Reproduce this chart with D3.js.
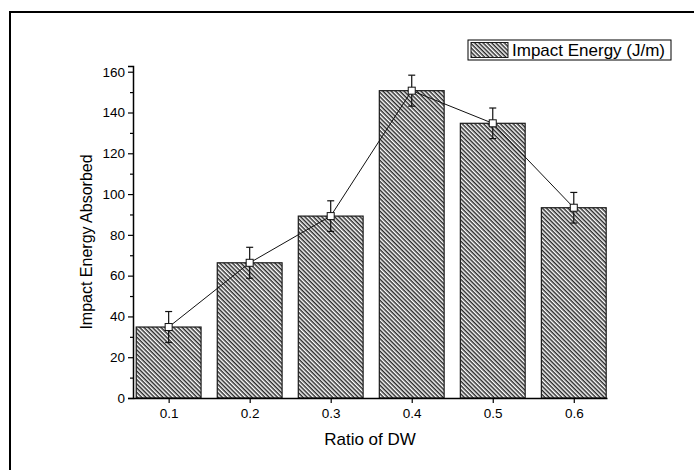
<!DOCTYPE html>
<html><head><meta charset="utf-8">
<script src="https://cdn.jsdelivr.net/npm/d3@7"></script>
<style>body{margin:0;background:#fff}svg{display:block}text{font-family:Arial,"Liberation Sans",sans-serif}</style>
</head><body><svg id="c" width="694" height="470"></svg>
<script>
const categories = [0.1, 0.2, 0.3, 0.4, 0.5, 0.6];
const categoryLabels = ["0.1", "0.2", "0.3", "0.4", "0.5", "0.6"];
const energy = [34.8, 66.3, 89.2, 150.7, 134.7, 93.3];
const errors = [7.6, 7.6, 7.5, 7.6, 7.5, 7.5];
const yTicks = [0, 20, 40, 60, 80, 100, 120, 140, 160];
const yMinorTicks = [10, 30, 50, 70, 90, 110, 130, 150];
const seriesName = "Impact Energy (J/m)";
const xTitle = "Ratio of DW";
const yTitle = "Impact Energy Absorbed";

const FONT = "Arial, 'Liberation Sans', sans-serif";
const svg = d3.select("#c");
const L = 133, R = 607, T = 66, B = 398;
const x = d3.scaleLinear().domain([0.056, 0.641]).range([L, R]);
const y = d3.scaleLinear().domain([0, 162.8]).range([B, T]);
const barW = x(0.18) - x(0.1);

// hatch pattern
const defs = svg.append("defs");
const P = 3;
const pat = defs.append("pattern").attr("id", "hatch").attr("patternUnits", "userSpaceOnUse")
  .attr("width", P).attr("height", P).attr("patternTransform", "rotate(45)");
pat.append("rect").attr("width", P).attr("height", P).attr("fill", "#fff");
pat.append("line").attr("x1", 0).attr("x2", P).attr("y1", 0.75).attr("y2", 0.75)
  .attr("stroke", "#2a2a2a").attr("stroke-width", 1.5);

// outer frame
svg.append("rect").attr("x", 10).attr("y", 12).attr("width", 700).attr("height", 480)
  .attr("fill", "none").attr("stroke", "#000").attr("stroke-width", 2);

// bars
svg.append("g").selectAll("rect").data(categories).join("rect")
  .attr("x", (d) => x(d) - barW / 2).attr("width", barW)
  .attr("y", (d, i) => y(energy[i])).attr("height", (d, i) => y(0) - y(energy[i]))
  .attr("fill", "url(#hatch)").attr("stroke", "#1a1a1a").attr("stroke-width", 1.2);

// axes
const yAxis = d3.axisLeft(y).tickValues(yTicks).tickSize(5).tickPadding(3);
const gy = svg.append("g").attr("transform", `translate(${L},0)`).call(yAxis);
gy.attr("font-family", FONT).attr("font-size", 13.5);
gy.select(".domain").attr("stroke-width", 1.5);
gy.selectAll("text").attr("fill", "#000");
gy.selectAll("line").attr("stroke-width", 1.2);
const yMinor = d3.axisLeft(y).tickValues(yMinorTicks).tickSize(3).tickFormat("");
const gym = svg.append("g").attr("transform", `translate(${L},0)`).call(yMinor);
gym.select(".domain").remove();
gym.selectAll("line").attr("stroke-width", 1.2);

const xAxis = d3.axisBottom(x).tickValues(categories).tickFormat((d, i) => categoryLabels[i]).tickSize(5).tickSizeOuter(0).tickPadding(5);
const gx = svg.append("g").attr("transform", `translate(0,${B})`).call(xAxis);
gx.attr("font-family", FONT).attr("font-size", 13.5);
gx.select(".domain").attr("stroke-width", 1.5);
gx.selectAll("text").attr("fill", "#000");
gx.selectAll("line").attr("stroke-width", 1.2);

// titles
svg.append("text").attr("x", (L + R) / 2).attr("y", 445).attr("text-anchor", "middle")
  .attr("font-size", 17).text(xTitle);
svg.append("text").attr("transform", "translate(92,242) rotate(-90)").attr("text-anchor", "middle")
  .attr("font-size", 16).text(yTitle);

// connecting line
const line = d3.line().x((d) => x(d)).y((d, i) => y(energy[i]));
svg.append("path").datum(categories).attr("d", line).attr("fill", "none").attr("stroke", "#111").attr("stroke-width", 1);

// error bars
const eg = svg.append("g").attr("stroke", "#111").attr("stroke-width", 1.2);
categories.forEach((c, i) => {
  const cx = x(c);
  eg.append("line").attr("x1", cx).attr("x2", cx).attr("y1", y(energy[i] + errors[i])).attr("y2", y(energy[i] - errors[i]));
  eg.append("line").attr("x1", cx - 3.5).attr("x2", cx + 3.5).attr("y1", y(energy[i] + errors[i])).attr("y2", y(energy[i] + errors[i]));
  eg.append("line").attr("x1", cx - 3.5).attr("x2", cx + 3.5).attr("y1", y(energy[i] - errors[i])).attr("y2", y(energy[i] - errors[i]));
});

// markers
svg.append("g").selectAll("rect").data(categories).join("rect")
  .attr("x", (d) => x(d) - 3.5).attr("y", (d, i) => y(energy[i]) - 3.5)
  .attr("width", 7).attr("height", 7).attr("fill", "#fff").attr("stroke", "#111").attr("stroke-width", 1);

// legend
const lg = svg.append("g");
lg.append("rect").attr("x", 468).attr("y", 40).attr("width", 203).attr("height", 20)
  .attr("fill", "#fff").attr("stroke", "#000").attr("stroke-width", 1);
lg.append("rect").attr("x", 471).attr("y", 42.5).attr("width", 37).attr("height", 15)
  .attr("fill", "url(#hatch)").attr("stroke", "#1a1a1a").attr("stroke-width", 1);
lg.append("text").attr("x", 512).attr("y", 56).attr("font-size", 17).text(seriesName);
</script></body></html>
